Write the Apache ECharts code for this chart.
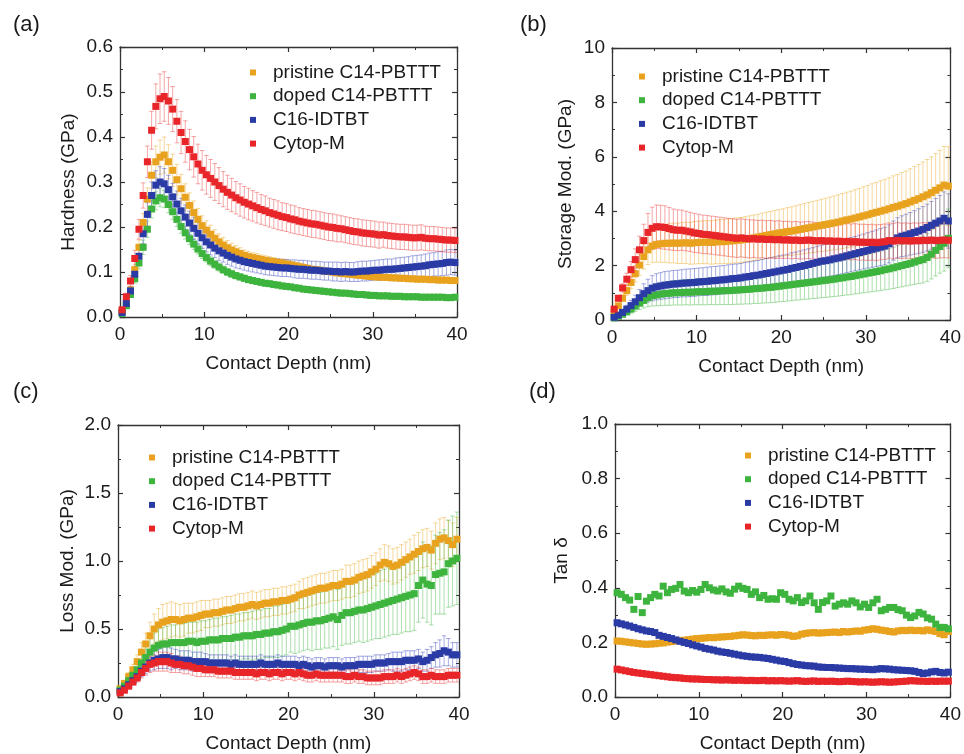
<!DOCTYPE html>
<html>
<head>
<meta charset="utf-8">
<script src="https://cdn.jsdelivr.net/npm/echarts@6/dist/echarts.min.js"></script>
<style>html,body{margin:0;padding:0;background:#fff}#c{width:964px;height:754px}</style>
</head>
<body>
<div id="c"></div>
<script>
// ---------------- DATA ----------------
const seriesNames = ['pristine C14-PBTTT', 'doped C14-PBTTT', 'C16-IDTBT', 'Cytop-M'];
const depth = [0.25,0.75,1.25,1.75,2.25,2.75,3.25,3.75,4.25,4.75,
5.25,5.75,6.25,6.75,7.25,7.75,8.25,8.75,9.25,9.75,
10.25,10.75,11.25,11.75,12.25,12.75,13.25,13.75,14.25,14.75,
15.25,15.75,16.25,16.75,17.25,17.75,18.25,18.75,19.25,19.75,
20.25,20.75,21.25,21.75,22.25,22.75,23.25,23.75,24.25,24.75,
25.25,25.75,26.25,26.75,27.25,27.75,28.25,28.75,29.25,29.75,
30.25,30.75,31.25,31.75,32.25,32.75,33.25,33.75,34.25,34.75,
35.25,35.75,36.25,36.75,37.25,37.75,38.25,38.75,39.25,39.75];
const xTicks = [0, 10, 20, 30, 40];

// (a) Hardness (GPa)
const hardPristine = [
0.012,0.030,0.060,0.105,0.155,0.210,0.262,0.315,0.345,0.355,
0.360,0.345,0.326,0.305,0.285,0.266,0.248,0.232,0.217,0.203,
0.193,0.184,0.175,0.167,0.160,0.154,0.149,0.145,0.141,0.137,
0.134,0.132,0.130,0.128,0.126,0.124,0.123,0.121,0.120,0.118,
0.116,0.114,0.112,0.110,0.108,0.106,0.105,0.104,0.102,0.101,
0.100,0.098,0.097,0.096,0.095,0.094,0.093,0.092,0.091,0.090,
0.089,0.089,0.088,0.088,0.087,0.087,0.086,0.086,0.085,0.085,
0.084,0.084,0.084,0.083,0.083,0.082,0.082,0.082,0.081,0.081];
const hardPristineErr = [
0.003,0.005,0.008,0.012,0.016,0.020,0.025,0.030,0.035,0.038,
0.040,0.038,0.036,0.034,0.032,0.030,0.028,0.026,0.024,0.022,
0.021,0.020,0.019,0.018,0.017,0.016,0.015,0.014,0.013,0.012,
0.012,0.011,0.011,0.010,0.010,0.010,0.009,0.009,0.009,0.009,
0.008,0.008,0.008,0.008,0.008,0.007,0.007,0.007,0.007,0.007,
0.007,0.006,0.006,0.006,0.006,0.006,0.006,0.006,0.006,0.006,
0.006,0.006,0.006,0.005,0.005,0.005,0.005,0.005,0.005,0.005,
0.005,0.005,0.005,0.005,0.005,0.005,0.005,0.005,0.005,0.005];
const hardDoped = [
0.008,0.025,0.050,0.085,0.120,0.155,0.195,0.240,0.258,0.265,
0.262,0.250,0.234,0.217,0.201,0.187,0.174,0.162,0.151,0.141,
0.132,0.124,0.117,0.111,0.105,0.100,0.096,0.092,0.089,0.086,
0.083,0.081,0.079,0.077,0.075,0.074,0.072,0.071,0.069,0.068,
0.067,0.065,0.064,0.062,0.061,0.060,0.059,0.058,0.057,0.056,
0.055,0.054,0.053,0.053,0.052,0.051,0.050,0.050,0.049,0.048,
0.048,0.047,0.047,0.047,0.046,0.046,0.046,0.045,0.045,0.045,
0.045,0.044,0.044,0.044,0.044,0.044,0.044,0.043,0.043,0.044];
const hardDopedErr = [
0.002,0.004,0.007,0.010,0.013,0.016,0.018,0.020,0.020,0.020,
0.019,0.018,0.017,0.016,0.015,0.014,0.013,0.012,0.011,0.011,
0.010,0.010,0.009,0.009,0.008,0.008,0.008,0.007,0.007,0.007,
0.006,0.006,0.006,0.006,0.006,0.006,0.006,0.006,0.006,0.006,
0.005,0.005,0.005,0.005,0.005,0.005,0.005,0.005,0.005,0.005,
0.005,0.005,0.005,0.005,0.005,0.005,0.005,0.005,0.005,0.005,
0.004,0.004,0.004,0.004,0.004,0.004,0.004,0.004,0.004,0.004,
0.004,0.004,0.004,0.004,0.004,0.004,0.004,0.004,0.004,0.004];
const hardIdtbt = [
0.010,0.030,0.058,0.095,0.135,0.185,0.228,0.270,0.293,0.300,
0.296,0.283,0.267,0.251,0.236,0.222,0.209,0.197,0.186,0.176,
0.167,0.160,0.153,0.147,0.142,0.137,0.133,0.129,0.126,0.123,
0.121,0.119,0.117,0.115,0.113,0.112,0.111,0.110,0.109,0.109,
0.108,0.107,0.106,0.106,0.105,0.104,0.104,0.103,0.102,0.102,
0.101,0.101,0.100,0.101,0.100,0.100,0.101,0.102,0.102,0.103,
0.104,0.104,0.105,0.106,0.106,0.107,0.108,0.109,0.110,0.111,
0.112,0.113,0.114,0.116,0.117,0.118,0.119,0.121,0.122,0.121];
const hardIdtbtErr = [
0.003,0.006,0.010,0.014,0.018,0.022,0.026,0.030,0.032,0.034,
0.034,0.032,0.030,0.029,0.028,0.027,0.026,0.025,0.024,0.023,
0.022,0.022,0.021,0.021,0.020,0.020,0.020,0.020,0.019,0.019,
0.019,0.019,0.019,0.019,0.019,0.019,0.019,0.019,0.019,0.019,
0.019,0.020,0.020,0.020,0.020,0.020,0.020,0.020,0.020,0.020,
0.021,0.021,0.021,0.021,0.021,0.021,0.022,0.022,0.022,0.022,
0.022,0.023,0.023,0.023,0.023,0.024,0.024,0.024,0.024,0.025,
0.025,0.025,0.026,0.026,0.026,0.027,0.027,0.028,0.028,0.028];
const hardCytop = [
0.016,0.045,0.080,0.130,0.195,0.270,0.345,0.415,0.468,0.485,
0.490,0.480,0.462,0.435,0.410,0.390,0.372,0.356,0.340,0.326,
0.316,0.308,0.300,0.292,0.284,0.277,0.271,0.265,0.260,0.255,
0.251,0.247,0.243,0.239,0.236,0.232,0.229,0.226,0.223,0.221,
0.218,0.216,0.213,0.211,0.209,0.207,0.206,0.204,0.202,0.200,
0.199,0.197,0.196,0.194,0.192,0.190,0.189,0.187,0.186,0.185,
0.184,0.182,0.183,0.181,0.180,0.179,0.178,0.178,0.177,0.176,
0.176,0.177,0.175,0.174,0.174,0.173,0.172,0.171,0.171,0.170];
const hardCytopErr = [
0.004,0.008,0.012,0.018,0.022,0.028,0.035,0.042,0.050,0.055,
0.055,0.052,0.050,0.048,0.047,0.046,0.045,0.045,0.044,0.044,
0.043,0.042,0.041,0.040,0.039,0.038,0.037,0.036,0.036,0.035,
0.035,0.034,0.034,0.033,0.033,0.032,0.032,0.032,0.031,0.031,
0.031,0.031,0.030,0.030,0.030,0.030,0.030,0.030,0.030,0.030,
0.030,0.030,0.029,0.029,0.029,0.029,0.029,0.029,0.029,0.029,
0.029,0.029,0.028,0.028,0.028,0.028,0.028,0.028,0.028,0.028,
0.028,0.028,0.027,0.027,0.027,0.027,0.027,0.027,0.027,0.027];
const hardTicks = [0.0, 0.1, 0.2, 0.3, 0.4, 0.5, 0.6];

// (b) Storage modulus (GPa)
const storPristine = [
0.28,0.52,0.80,1.08,1.38,1.70,2.02,2.33,2.58,2.72,
2.78,2.80,2.82,2.82,2.83,2.82,2.83,2.84,2.82,2.84,
2.85,2.86,2.86,2.85,2.87,2.88,2.88,2.90,2.91,2.93,
2.94,2.97,2.99,3.02,3.05,3.08,3.11,3.14,3.17,3.20,
3.22,3.25,3.27,3.30,3.33,3.36,3.39,3.42,3.45,3.48,
3.51,3.54,3.57,3.60,3.64,3.68,3.71,3.75,3.79,3.83,
3.87,3.92,3.96,4.00,4.04,4.09,4.14,4.18,4.23,4.28,
4.34,4.40,4.46,4.53,4.60,4.68,4.77,4.86,4.96,4.92];
const storPristineErr = [
0.05,0.08,0.12,0.17,0.23,0.30,0.38,0.46,0.54,0.60,
0.65,0.68,0.70,0.72,0.73,0.74,0.75,0.76,0.77,0.78,
0.78,0.79,0.79,0.80,0.80,0.81,0.81,0.82,0.82,0.83,
0.83,0.83,0.84,0.84,0.84,0.85,0.85,0.85,0.86,0.86,
0.87,0.88,0.89,0.90,0.91,0.92,0.93,0.94,0.95,0.96,
0.97,0.98,0.99,1.00,1.01,1.02,1.03,1.04,1.05,1.07,
1.08,1.09,1.10,1.12,1.13,1.14,1.16,1.17,1.19,1.20,
1.22,1.24,1.26,1.28,1.30,1.32,1.35,1.38,1.42,1.45];
const storDoped = [
0.08,0.14,0.21,0.30,0.40,0.51,0.62,0.72,0.82,0.89,
0.92,0.95,0.97,0.98,1.00,1.00,1.01,1.02,1.02,1.03,
1.04,1.04,1.05,1.06,1.06,1.07,1.08,1.08,1.09,1.10,
1.11,1.12,1.13,1.15,1.16,1.17,1.19,1.20,1.22,1.24,
1.26,1.28,1.30,1.32,1.34,1.36,1.38,1.40,1.42,1.44,
1.46,1.48,1.50,1.53,1.55,1.58,1.60,1.63,1.66,1.69,
1.72,1.75,1.78,1.81,1.85,1.88,1.92,1.96,2.00,2.04,
2.08,2.13,2.18,2.22,2.30,2.42,2.56,2.70,2.82,3.00];
const storDopedErr = [
0.03,0.05,0.08,0.11,0.15,0.19,0.23,0.28,0.33,0.37,
0.40,0.42,0.43,0.44,0.45,0.45,0.46,0.46,0.47,0.47,
0.48,0.48,0.49,0.49,0.50,0.50,0.51,0.51,0.52,0.52,
0.53,0.53,0.54,0.54,0.55,0.55,0.56,0.56,0.57,0.57,
0.58,0.58,0.59,0.59,0.60,0.60,0.61,0.61,0.62,0.62,
0.63,0.63,0.64,0.65,0.65,0.66,0.67,0.67,0.68,0.69,
0.70,0.71,0.72,0.73,0.74,0.75,0.76,0.77,0.78,0.79,
0.80,0.82,0.84,0.86,0.88,0.91,0.94,0.98,1.02,1.08];
const storIdtbt = [
0.10,0.18,0.28,0.40,0.53,0.67,0.82,0.97,1.08,1.17,
1.22,1.25,1.28,1.30,1.32,1.33,1.35,1.36,1.37,1.38,
1.40,1.41,1.42,1.44,1.45,1.47,1.48,1.50,1.52,1.53,
1.55,1.58,1.60,1.63,1.65,1.68,1.71,1.74,1.77,1.80,
1.83,1.86,1.90,1.93,1.97,2.00,2.04,2.08,2.12,2.16,
2.18,2.21,2.25,2.28,2.32,2.36,2.40,2.44,2.48,2.52,
2.56,2.60,2.64,2.68,2.72,2.80,2.92,3.02,3.08,3.12,
3.17,3.22,3.27,3.33,3.40,3.48,3.56,3.64,3.74,3.64];
const storIdtbtErr = [
0.04,0.07,0.10,0.14,0.19,0.24,0.30,0.36,0.42,0.46,
0.48,0.49,0.50,0.50,0.50,0.50,0.50,0.51,0.51,0.51,
0.51,0.51,0.52,0.52,0.52,0.52,0.52,0.53,0.53,0.53,
0.53,0.54,0.54,0.54,0.54,0.55,0.55,0.55,0.55,0.56,
0.56,0.56,0.57,0.57,0.57,0.58,0.58,0.58,0.59,0.59,
0.60,0.60,0.61,0.61,0.62,0.62,0.63,0.63,0.64,0.64,
0.65,0.66,0.67,0.68,0.69,0.70,0.72,0.74,0.75,0.77,
0.78,0.80,0.82,0.84,0.86,0.88,0.91,0.94,0.97,1.00];
const storCytop = [
0.40,0.80,1.18,1.50,1.85,2.22,2.58,2.92,3.22,3.37,
3.43,3.42,3.40,3.36,3.32,3.30,3.30,3.27,3.24,3.20,
3.18,3.15,3.14,3.12,3.10,3.08,3.06,3.04,3.02,3.00,
3.02,3.00,2.98,2.99,2.97,2.98,2.96,2.97,2.95,2.96,
2.94,2.95,2.93,2.94,2.92,2.93,2.94,2.92,2.91,2.92,
2.90,2.91,2.89,2.90,2.88,2.89,2.87,2.88,2.86,2.86,
2.85,2.86,2.84,2.86,2.88,2.92,2.90,2.93,2.91,2.92,
2.90,2.92,2.91,2.93,2.92,2.94,2.92,2.93,2.94,2.93];
const storCytopErr = [
0.05,0.10,0.15,0.22,0.30,0.40,0.50,0.60,0.70,0.78,
0.80,0.80,0.80,0.78,0.76,0.75,0.74,0.73,0.72,0.72,
0.71,0.71,0.70,0.70,0.70,0.70,0.70,0.70,0.70,0.70,
0.70,0.70,0.70,0.69,0.69,0.69,0.69,0.69,0.69,0.69,
0.68,0.68,0.68,0.68,0.68,0.68,0.68,0.68,0.67,0.67,
0.67,0.67,0.67,0.67,0.67,0.66,0.66,0.66,0.66,0.66,
0.66,0.66,0.66,0.65,0.65,0.65,0.65,0.65,0.65,0.65,
0.65,0.65,0.65,0.65,0.65,0.65,0.65,0.65,0.65,0.65];
const storTicks = [0, 2, 4, 6, 8, 10];

// (c) Loss modulus (GPa)
const lossPristine = [
0.06,0.10,0.15,0.20,0.26,0.33,0.39,0.45,0.50,0.53,
0.55,0.56,0.57,0.57,0.56,0.57,0.58,0.58,0.59,0.60,
0.61,0.61,0.62,0.62,0.63,0.64,0.64,0.65,0.66,0.66,
0.67,0.68,0.67,0.68,0.69,0.69,0.70,0.70,0.71,0.71,
0.72,0.73,0.75,0.76,0.77,0.78,0.79,0.80,0.80,0.81,
0.82,0.82,0.83,0.85,0.85,0.86,0.88,0.89,0.90,0.92,
0.94,0.97,0.99,0.98,0.96,0.97,0.99,1.01,1.03,1.05,
1.07,1.09,1.10,1.08,1.13,1.16,1.17,1.15,1.12,1.16];
const lossPristineErr = [
0.01,0.02,0.03,0.04,0.05,0.07,0.08,0.10,0.11,0.12,
0.13,0.13,0.13,0.12,0.12,0.12,0.11,0.11,0.11,0.11,
0.10,0.10,0.10,0.10,0.10,0.10,0.10,0.10,0.10,0.10,
0.10,0.10,0.10,0.10,0.10,0.10,0.10,0.10,0.10,0.10,
0.10,0.10,0.10,0.11,0.11,0.11,0.11,0.11,0.11,0.11,
0.11,0.11,0.11,0.12,0.12,0.12,0.12,0.12,0.12,0.12,
0.12,0.12,0.13,0.13,0.13,0.13,0.13,0.13,0.13,0.14,
0.14,0.14,0.14,0.14,0.15,0.15,0.15,0.15,0.16,0.16];
const lossDoped = [
0.05,0.08,0.12,0.16,0.20,0.25,0.29,0.33,0.36,0.38,
0.39,0.39,0.40,0.40,0.40,0.40,0.41,0.41,0.40,0.41,
0.41,0.42,0.42,0.42,0.43,0.43,0.43,0.44,0.44,0.45,
0.45,0.45,0.46,0.46,0.47,0.47,0.48,0.48,0.49,0.50,
0.52,0.52,0.53,0.54,0.55,0.55,0.56,0.56,0.57,0.58,
0.59,0.57,0.60,0.62,0.62,0.63,0.64,0.64,0.65,0.66,
0.67,0.68,0.69,0.70,0.71,0.72,0.73,0.74,0.75,0.76,
0.82,0.86,0.83,0.82,0.90,0.91,0.92,0.98,1.00,1.02];
const lossDopedErr = [
0.01,0.02,0.03,0.04,0.05,0.07,0.08,0.10,0.11,0.12,
0.12,0.13,0.13,0.13,0.14,0.14,0.14,0.14,0.15,0.15,
0.15,0.15,0.16,0.16,0.16,0.16,0.17,0.17,0.17,0.17,
0.17,0.18,0.18,0.18,0.18,0.18,0.19,0.19,0.19,0.19,
0.19,0.20,0.20,0.20,0.20,0.21,0.21,0.21,0.21,0.22,
0.22,0.22,0.22,0.23,0.23,0.23,0.23,0.24,0.24,0.24,
0.24,0.25,0.25,0.25,0.25,0.26,0.26,0.26,0.27,0.27,
0.27,0.28,0.28,0.29,0.29,0.30,0.31,0.32,0.33,0.34];
const lossIdtbt = [
0.04,0.06,0.09,0.12,0.15,0.19,0.22,0.25,0.27,0.28,
0.29,0.29,0.28,0.28,0.27,0.27,0.27,0.26,0.26,0.26,
0.26,0.25,0.25,0.25,0.25,0.25,0.24,0.25,0.24,0.24,
0.24,0.24,0.24,0.25,0.24,0.24,0.24,0.25,0.24,0.24,
0.24,0.24,0.23,0.24,0.23,0.22,0.23,0.23,0.22,0.23,
0.23,0.23,0.22,0.23,0.23,0.23,0.24,0.24,0.24,0.24,
0.25,0.25,0.25,0.26,0.26,0.26,0.26,0.27,0.27,0.27,
0.28,0.26,0.27,0.29,0.31,0.32,0.34,0.33,0.31,0.31];
const lossIdtbtErr = [
0.01,0.01,0.02,0.02,0.03,0.04,0.05,0.06,0.07,0.07,
0.08,0.08,0.08,0.07,0.07,0.07,0.07,0.07,0.07,0.07,
0.06,0.06,0.06,0.06,0.06,0.06,0.06,0.06,0.06,0.06,
0.06,0.06,0.06,0.06,0.06,0.06,0.06,0.06,0.06,0.06,
0.06,0.06,0.06,0.06,0.06,0.06,0.06,0.06,0.06,0.06,
0.06,0.06,0.06,0.06,0.06,0.06,0.06,0.06,0.06,0.06,
0.06,0.06,0.06,0.06,0.07,0.07,0.07,0.07,0.07,0.07,
0.07,0.07,0.08,0.08,0.09,0.10,0.11,0.10,0.09,0.09];
const lossCytop = [
0.03,0.05,0.08,0.11,0.14,0.18,0.21,0.24,0.25,0.26,
0.26,0.26,0.25,0.24,0.24,0.23,0.23,0.22,0.21,0.21,
0.20,0.20,0.20,0.19,0.19,0.19,0.19,0.18,0.18,0.18,
0.18,0.18,0.17,0.18,0.18,0.17,0.18,0.18,0.17,0.18,
0.18,0.17,0.18,0.17,0.16,0.16,0.17,0.16,0.16,0.16,
0.16,0.16,0.16,0.15,0.15,0.16,0.15,0.15,0.14,0.14,
0.14,0.14,0.15,0.15,0.15,0.16,0.15,0.16,0.17,0.18,
0.17,0.15,0.15,0.16,0.15,0.15,0.15,0.16,0.16,0.16];
const lossCytopErr = [
0.01,0.01,0.02,0.02,0.03,0.04,0.05,0.06,0.06,0.07,
0.07,0.07,0.07,0.06,0.06,0.06,0.06,0.06,0.06,0.06,
0.05,0.05,0.05,0.05,0.05,0.05,0.05,0.05,0.05,0.05,
0.05,0.05,0.05,0.05,0.05,0.05,0.05,0.05,0.05,0.05,
0.05,0.05,0.05,0.05,0.05,0.05,0.05,0.05,0.05,0.05,
0.05,0.05,0.05,0.05,0.05,0.05,0.05,0.05,0.05,0.05,
0.05,0.05,0.05,0.05,0.05,0.05,0.05,0.05,0.05,0.05,
0.05,0.05,0.05,0.05,0.05,0.05,0.05,0.05,0.05,0.05];
const lossTicks = [0.0, 0.5, 1.0, 1.5, 2.0];

// (d) Tan delta
const tanPristine = [
0.205,0.204,0.202,0.200,0.198,0.196,0.194,0.193,0.194,0.195,
0.197,0.198,0.201,0.203,0.205,0.207,0.208,0.210,0.212,0.214,
0.215,0.216,0.218,0.217,0.219,0.220,0.221,0.222,0.224,0.226,
0.228,0.227,0.225,0.224,0.226,0.225,0.227,0.228,0.226,0.229,
0.228,0.226,0.222,0.224,0.230,0.233,0.235,0.236,0.234,0.235,
0.236,0.237,0.238,0.236,0.240,0.238,0.240,0.242,0.241,0.245,
0.247,0.250,0.248,0.245,0.243,0.240,0.238,0.242,0.244,0.243,
0.245,0.243,0.244,0.242,0.246,0.243,0.240,0.232,0.228,0.240];
const tanDoped = [
0.382,0.376,0.364,0.355,0.321,0.368,0.309,0.351,0.364,0.376,
0.370,0.406,0.382,0.394,0.398,0.412,0.388,0.382,0.390,0.384,
0.394,0.412,0.400,0.392,0.388,0.396,0.385,0.380,0.395,0.406,
0.398,0.394,0.376,0.385,0.364,0.372,0.358,0.360,0.358,0.382,
0.376,0.358,0.352,0.364,0.346,0.352,0.370,0.345,0.321,0.346,
0.352,0.370,0.333,0.340,0.345,0.340,0.352,0.345,0.330,0.340,
0.328,0.345,0.358,0.316,0.321,0.328,0.328,0.320,0.316,0.300,
0.291,0.297,0.310,0.304,0.290,0.285,0.267,0.255,0.255,0.250];
const tanIdtbt = [
0.272,0.268,0.264,0.260,0.255,0.250,0.246,0.242,0.240,0.236,
0.226,0.222,0.218,0.214,0.209,0.204,0.200,0.196,0.191,0.187,
0.183,0.178,0.175,0.172,0.168,0.165,0.163,0.160,0.157,0.154,
0.151,0.149,0.147,0.146,0.145,0.143,0.141,0.138,0.135,0.132,
0.130,0.126,0.122,0.119,0.117,0.115,0.114,0.113,0.110,0.109,
0.108,0.108,0.107,0.106,0.105,0.104,0.104,0.103,0.102,0.102,
0.101,0.100,0.102,0.104,0.103,0.102,0.100,0.099,0.098,0.097,
0.096,0.094,0.090,0.086,0.088,0.092,0.094,0.090,0.088,0.091];
const tanCytop = [
0.102,0.099,0.096,0.093,0.090,0.088,0.086,0.084,0.082,0.080,
0.078,0.076,0.074,0.072,0.071,0.070,0.068,0.067,0.066,0.066,
0.065,0.064,0.064,0.063,0.063,0.062,0.063,0.062,0.061,0.062,
0.061,0.060,0.061,0.060,0.060,0.061,0.059,0.060,0.059,0.060,
0.059,0.058,0.059,0.060,0.058,0.057,0.058,0.059,0.057,0.058,
0.057,0.058,0.057,0.056,0.057,0.058,0.057,0.056,0.055,0.056,
0.055,0.054,0.055,0.056,0.055,0.054,0.055,0.056,0.057,0.058,
0.060,0.059,0.058,0.058,0.057,0.058,0.057,0.058,0.058,0.058];
const tanTicks = [0.0, 0.2, 0.4, 0.6, 0.8, 1.0];

// ---------------- STYLE / LAYOUT ----------------
const colors = ['#E8A21E', '#3DB43D', '#2A3BA6', '#E8262A'];
const errColors = ['rgba(236,170,40,0.5)', 'rgba(70,185,70,0.5)', 'rgba(60,70,190,0.5)', 'rgba(235,60,60,0.5)'];
const FONT = '"Liberation Sans", Arial, sans-serif';
const TXT = '#1a1a1a';

const panels = [
  { label: '(a)', labelPos: [13, 14], grid: { left: 120, top: 47, width: 337, height: 270 },
    yName: 'Hardness (GPa)', yNameGap: 42, yTicks: hardTicks, dec: 1,
    vals: [hardPristine, hardDoped, hardIdtbt, hardCytop],
    errs: [hardPristineErr, hardDopedErr, hardIdtbtErr, hardCytopErr],
    legend: { left: 245, top: 58 } },
  { label: '(b)', labelPos: [520, 14], grid: { left: 612, top: 48, width: 340, height: 272 },
    yName: 'Storage Mod. (GPa)', yNameGap: 37, yTicks: storTicks, dec: 0,
    vals: [storPristine, storDoped, storIdtbt, storCytop],
    errs: [storPristineErr, storDopedErr, storIdtbtErr, storCytopErr],
    legend: { left: 634, top: 62 } },
  { label: '(c)', labelPos: [13, 381], grid: { left: 118, top: 425, width: 341, height: 273 },
    yName: 'Loss Mod. (GPa)', yNameGap: 41, yTicks: lossTicks, dec: 1,
    vals: [lossPristine, lossDoped, lossIdtbt, lossCytop],
    errs: [lossPristineErr, lossDopedErr, lossIdtbtErr, lossCytopErr],
    legend: { left: 144, top: 443 } },
  { label: '(d)', labelPos: [529, 381], grid: { left: 615, top: 424, width: 340, height: 274 },
    yName: 'Tan \u03b4', yNameGap: 44, yTicks: tanTicks, dec: 1,
    vals: [tanPristine, tanDoped, tanIdtbt, tanCytop],
    errs: null,
    legend: { left: 740, top: 441 } }
];

function errRender(params, api) {
  const x = api.value(0), y = api.value(1), e = api.value(2);
  const t = api.coord([x, y + e]);
  const b = api.coord([x, y - e]);
  const hw = 2.3;
  const st = { stroke: api.visual('color'), lineWidth: 0.9 };
  return { type: 'group', children: [
    { type: 'line', shape: { x1: t[0], y1: t[1], x2: b[0], y2: b[1] }, style: st },
    { type: 'line', shape: { x1: t[0] - hw, y1: t[1], x2: t[0] + hw, y2: t[1] }, style: st },
    { type: 'line', shape: { x1: b[0] - hw, y1: b[1], x2: b[0] + hw, y2: b[1] }, style: st }
  ]};
}

const option = {
  animation: false,
  backgroundColor: '#fff',
  textStyle: { fontFamily: FONT },
  title: [], grid: [], xAxis: [], yAxis: [], legend: [], series: []
};

const axisLine = { show: true, onZero: false, lineStyle: { color: '#333', width: 1.3 } };

panels.forEach((p, k) => {
  option.title.push({ text: p.label, left: p.labelPos[0], top: p.labelPos[1], padding: 0,
    textStyle: { fontSize: 22, fontWeight: 'normal', color: TXT, fontFamily: FONT } });
  option.grid.push(Object.assign({ containLabel: false }, p.grid));
  const yMin = p.yTicks[0], yMax = p.yTicks[p.yTicks.length - 1];
  const yInt = p.yTicks[1] - p.yTicks[0];
  const xCommon = { gridIndex: k, type: 'value', min: xTicks[0], max: xTicks[xTicks.length - 1],
    interval: xTicks[1] - xTicks[0], axisLine,
    axisTick: { inside: true, length: 5, lineStyle: { color: '#333', width: 1.2 } },
    minorTick: { show: true, splitNumber: 2, length: 3, lineStyle: { color: '#333', width: 1 } },
    splitLine: { show: false } };
  option.xAxis.push(Object.assign({}, xCommon, { position: 'bottom',
    name: 'Contact Depth (nm)', nameLocation: 'middle', nameGap: 37,
    nameTextStyle: { fontSize: 19, color: TXT, fontFamily: FONT },
    axisLabel: { fontSize: 19, color: TXT, margin: 8, fontFamily: FONT } }));
  option.xAxis.push(Object.assign({}, xCommon, { position: 'top', axisLabel: { show: false } }));
  const yCommon = { gridIndex: k, type: 'value', min: yMin, max: yMax, interval: yInt, axisLine,
    axisTick: { inside: true, length: 5, lineStyle: { color: '#333', width: 1.2 } },
    minorTick: { show: true, splitNumber: 2, length: 3, lineStyle: { color: '#333', width: 1 } },
    splitLine: { show: false } };
  option.yAxis.push(Object.assign({}, yCommon, { position: 'left',
    name: p.yName, nameLocation: 'middle', nameGap: p.yNameGap, nameRotate: 90,
    nameTextStyle: { fontSize: 19, color: TXT, fontFamily: FONT },
    axisLabel: { fontSize: 19, color: TXT, margin: 7, fontFamily: FONT,
      formatter: v => v.toFixed(p.dec) } }));
  option.yAxis.push(Object.assign({}, yCommon, { position: 'right', axisLabel: { show: false } }));

  option.legend.push({ orient: 'vertical', left: p.legend.left, top: p.legend.top,
    data: seriesNames.slice(), icon: 'rect', itemWidth: 6, itemHeight: 6, itemGap: 4.7,
    selectedMode: false,
    textStyle: { fontSize: 19, color: TXT, fontFamily: FONT, lineHeight: 19, padding: [0, 0, 0, 12] } });

  const xi = 2 * k, yi = 2 * k;
  if (p.errs) {
    p.errs.forEach((e, s) => {
      option.series.push({ type: 'custom', name: 'err-' + k + '-' + s, xAxisIndex: xi, yAxisIndex: yi,
        renderItem: errRender, clip: true, z: 1,
        itemStyle: { color: errColors[s] },
        encode: { x: 0, y: 1 },
        data: depth.map((d, i) => [d, p.vals[s][i], e[i]]) });
    });
  }
  p.vals.forEach((v, s) => {
    option.series.push({ type: 'scatter', name: seriesNames[s], xAxisIndex: xi, yAxisIndex: yi,
      symbol: 'rect', symbolSize: 7, z: 3,
      itemStyle: { color: colors[s], opacity: 1 },
      data: depth.map((d, i) => [d, v[i]]) });
  });
});

const chart = echarts.init(document.getElementById('c'), null, { renderer: 'canvas' });
chart.setOption(option);
</script>
</body>
</html>
